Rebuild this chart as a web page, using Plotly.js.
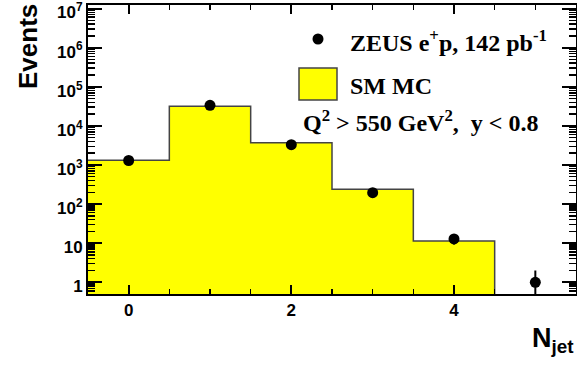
<!DOCTYPE html>
<html>
<head>
<meta charset="utf-8">
<script src="https://cdn.plot.ly/plotly-3.0.1.min.js"></script>
<style>html,body{margin:0;padding:0;background:#fff;}#chart{width:577px;height:374px;}</style>
</head>
<body>
<div id="chart"></div>
<script>
// Data
const binCenters = [0, 1, 2, 3, 4];
const mcValues = [1320, 31600, 3700, 240, 11.4];
const dataX = [0, 1, 2, 3, 4, 5];
const dataY = [1300, 33500, 3300, 195, 12.8, 1];
const yTickVals = [1, 10, 100, 1e3, 1e4, 1e5, 1e6, 1e7];
const yTickText = ['1', '10', '10<sup>2</sup>', '10<sup>3</sup>', '10<sup>4</sup>', '10<sup>5</sup>', '10<sup>6</sup>', '10<sup>7</sup>'];
const xTickVals = [0, 2, 4];
const xTickText = ['0', '2', '4'];

// Build step outline of histogram from bin centers
const stepX = [], stepY = [];
binCenters.forEach((c, i) => { stepX.push(c - 0.5); stepY.push(mcValues[i]); });
const lastEdge = binCenters[binCenters.length - 1] + 0.5;
stepX.push(lastEdge); stepY.push(mcValues[mcValues.length - 1]);
stepX.push(lastEdge); stepY.push(1e-3);

const errUp = dataY.map(v => Math.sqrt(v));
const errDn = dataY.map(v => Math.min(Math.sqrt(v), v * 0.9999));

const W = 577, H = 374, L = 88, R = 576, T = 5, B = 294;
const px = x => (x - L) / (R - L);
const py = y => (B - y) / (B - T);
const bold = s => '<b>' + s + '</b>';

const sans = 'Liberation Sans, Arial, sans-serif';
const tickFont = {family: sans, size: 17, color: '#000'};
const serif = {family: 'Liberation Serif, Times New Roman, serif', size: 24, color: '#000'};

const traces = [
  {
    x: stepX, y: stepY, type: 'scatter', mode: 'lines',
    line: {shape: 'hv', color: '#444', width: 1.5},
    fill: 'tozeroy', fillcolor: '#ffff00', hoverinfo: 'skip', showlegend: false
  },
  {
    x: dataX, y: dataY, type: 'scatter', mode: 'markers',
    marker: {color: '#000', size: 11},
    error_y: {type: 'data', symmetric: false, array: errUp, arrayminus: errDn, color: '#000', thickness: 2, width: 0},
    showlegend: false
  }
];

const layout = {
  width: W, height: H,
  margin: {l: L, r: W - R, t: T, b: H - B},
  paper_bgcolor: '#fff', plot_bgcolor: '#fff',
  showlegend: false,
  xaxis: {
    range: [-0.5, 5.5], showgrid: false, zeroline: false,
    showline: true, linecolor: '#000', linewidth: 2, mirror: 'ticks',
    ticks: 'inside', ticklen: 9, tickwidth: 2, tickcolor: '#000',
    tickmode: 'array', tickvals: xTickVals, ticktext: xTickText.map(bold),
    tickfont: tickFont, ticklabeloverflow: 'allow',
    minor: {ticks: 'inside', ticklen: 5, tickwidth: 1.5, tickcolor: '#000', tickmode: 'linear', tick0: 0, dtick: 0.5, showgrid: false}
  },
  yaxis: {
    type: 'log', range: [-0.30, 7.09], showgrid: false, zeroline: false,
    showline: true, linecolor: '#000', linewidth: 2, mirror: 'ticks',
    ticks: 'inside', ticklen: 14, tickwidth: 2, tickcolor: '#000',
    tickmode: 'array', tickvals: yTickVals, ticktext: yTickText.map(bold),
    tickfont: tickFont, ticklabeloverflow: 'allow', ticklabelshift: 4,
    minor: {ticks: 'inside', ticklen: 7, tickwidth: 1.5, tickcolor: '#000', dtick: 'D1', showgrid: false}
  },
  shapes: [
    {type: 'circle', xref: 'paper', yref: 'paper', x0: px(312.5), x1: px(323.5), y0: py(44.5), y1: py(33.5), fillcolor: '#000', line: {width: 0}},
    {type: 'rect', xref: 'paper', yref: 'paper', x0: px(299), x1: px(337), y0: py(100), y1: py(68), fillcolor: '#ffff00', line: {color: '#444', width: 1.5}}
  ],
  annotations: [
    {text: bold('Events'), xref: 'paper', yref: 'paper', x: px(28), y: py(47), textangle: -90, showarrow: false,
     font: {family: sans, size: 26, color: '#000'}, xanchor: 'center', yanchor: 'middle'},
    {text: bold('N<sub>jet</sub>'), xref: 'paper', yref: 'paper', x: px(576), y: py(340), showarrow: false,
     font: {family: sans, size: 27, color: '#000'}, xanchor: 'right', yanchor: 'middle'},
    {text: bold('ZEUS e<sup>+</sup>p, 142 pb<sup>-1</sup>'), xref: 'paper', yref: 'paper', x: px(348), y: py(41), showarrow: false,
     font: serif, xanchor: 'left', yanchor: 'middle'},
    {text: bold('SM MC'), xref: 'paper', yref: 'paper', x: px(348), y: py(86), showarrow: false,
     font: serif, xanchor: 'left', yanchor: 'middle'},
    {text: bold('Q<sup>2</sup> &gt; 550 GeV<sup>2</sup>,  y &lt; 0.8'), xref: 'paper', yref: 'paper', x: px(301), y: py(121), showarrow: false,
     font: serif, xanchor: 'left', yanchor: 'middle'}
  ]
};

Plotly.newPlot('chart', traces, layout, {displayModeBar: false, staticPlot: true});
</script>
</body>
</html>
